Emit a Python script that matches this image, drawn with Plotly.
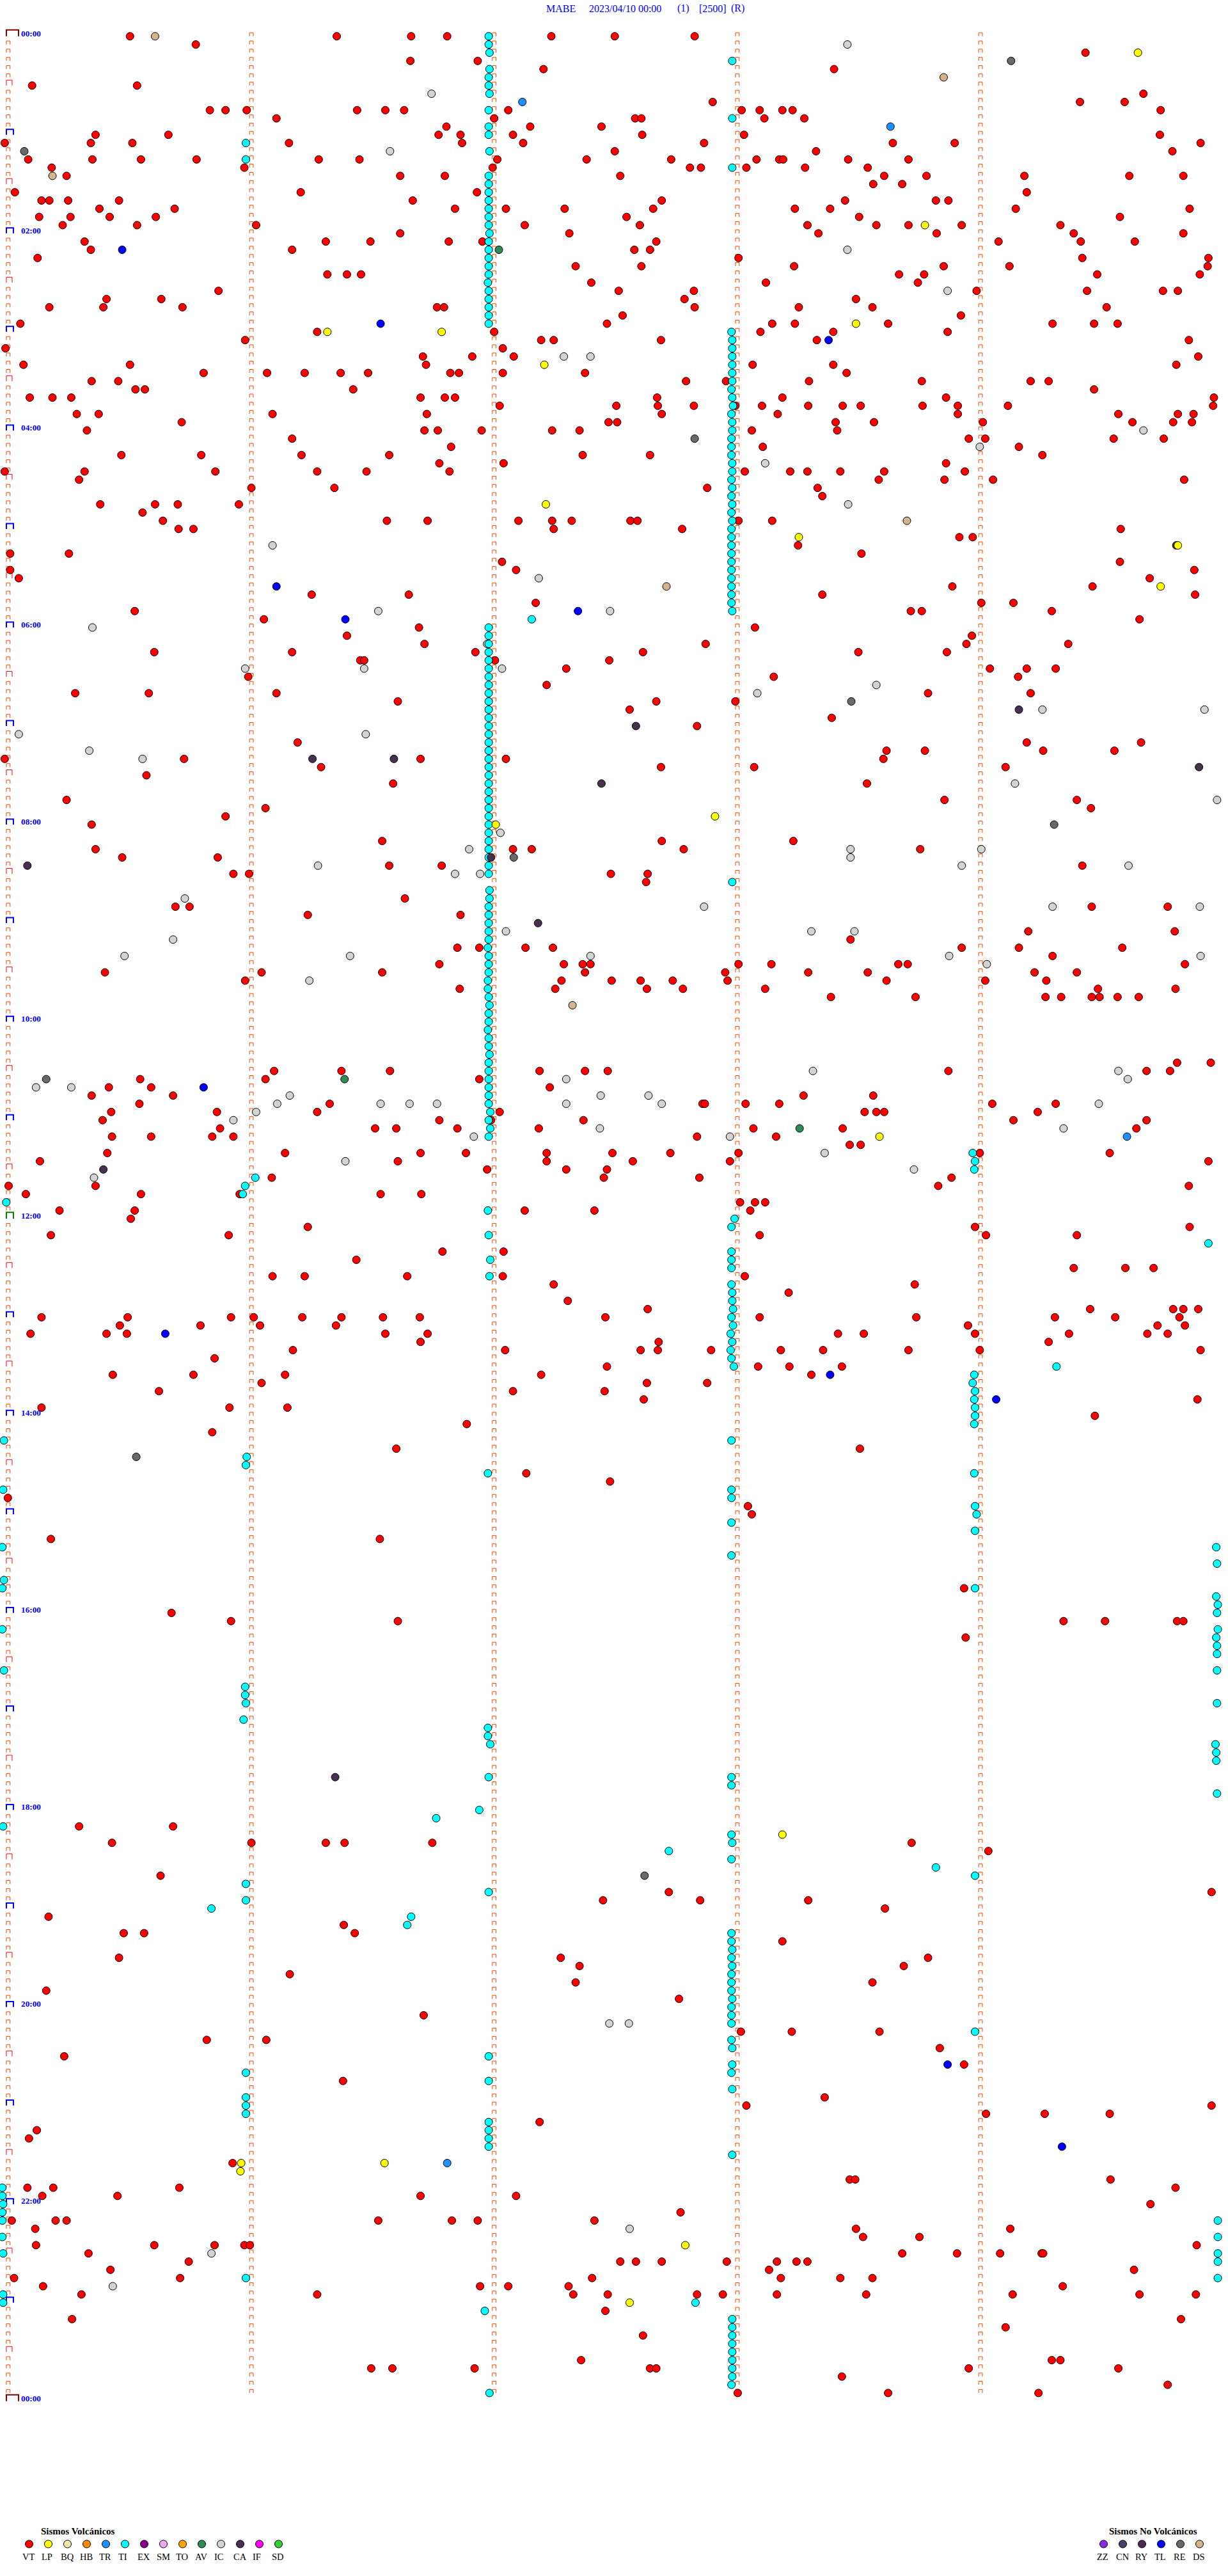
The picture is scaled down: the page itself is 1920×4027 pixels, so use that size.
import plotly.graph_objects as go

# Helicorder-style event chart: one row per 5 minutes of the day,
# x = sample offset inside the 5 minute window (0 .. 1568 samples)
ROW_COUNT = 288
SAMPLES_PER_WINDOW = 1568
MINUTE_TICKS = [10.5, 321, 631, 941.5, 1252]
TIME_LABELS = ["00:00", "02:00", "04:00", "06:00", "08:00", "10:00", "12:00",
               "14:00", "16:00", "18:00", "20:00", "22:00", "00:00"]

VT = {
0:[166,430,525,571,704,785,887],1:[250],2:[1386],3:[524,610],4:[694,1065],6:[41,175],7:[1460],8:[910,1379,1436],
9:[268,288,315,456,492,516,649,947,970,999,1012,1482],10:[353,631,811,819,976,1027],11:[570,677,768],
12:[122,215,560,588,655,820,950,1481],13:[6,116,169,369,590,668,899,1140,1219,1533],14:[785,1042,1497],
15:[36,118,180,251,407,459,635,749,857,966,995,1000,1083,1160],16:[66,312,629,881,895,953,1028,1108],
17:[85,511,568,792,1129,1183,1308,1442,1511],18:[1115,1152],19:[19,384,609,1311],
20:[53,63,87,152,527,845,1079,1195,1211],21:[127,223,581,646,721,834,1015,1060,1297,1519],
22:[50,90,140,199,800,1097,1430],23:[80,175,327,670,817,1031,1119,1160,1228,1354],24:[511,727,1045,1196,1371,1511],
25:[108,416,473,573,616,838,1275,1380,1449],26:[116,373,810,830],27:[48,943,1382,1543],
28:[735,819,1014,1205,1289,1542],29:[418,443,461,1148,1180,1401,1532],30:[755,978,1172],
31:[279,790,886,1247,1388,1485,1504],32:[136,206,874,1093],33:[63,132,233,558,567,887,1020,1114,1413],34:[795,1227],
35:[26,775,986,1015,1134,1344,1397,1427],36:[405,631,971,1064,1210],37:[313,691,707,844,1043,1518],38:[7,642],
39:[540,603,656,1530],40:[30,166,544,961,1064,1502],41:[260,341,389,435,470,575,586,642,747,1081],
42:[117,151,876,927,1033,1177,1316,1339],43:[173,185,451,1397],44:[38,67,91,537,568,581,839,999,1208,1550],
45:[638,787,840,886,939,973,1032,1076,1099,1178,1223,1287,1549],46:[98,126,348,545,845,993,1223,1428,1504,1524],
47:[232,777,788,1067,1116,1255,1446,1498,1522],48:[111,542,559,615,705,740,960,1069],49:[373,1237,1258,1422,1486],
50:[576,974,1301],51:[155,257,385,497,744,830,1331],52:[561,643,1208],53:[6,108,275,405,468,574,951,1009,1031,1073,1129,1232],
54:[101,1122,1206,1268,1512],55:[321,427,903,1044],56:[1050],57:[128,198,227,305],58:[182],
59:[208,494,546,662,705,730,805,814,943,986],60:[228,247,707,871,1431],61:[1225,1242],62:[1019],63:[13,88,1100],
64:[641,1430],65:[13,659,1525],66:[24,1468],67:[1216,1395],68:[398,522,1050,1526],69:[684,1253,1294],
70:[172,1163,1177,1343],71:[337,1455],
72:[535,964],73:[443,1241],74:[542,901,1234,1364],75:[197,373,607,821,1096,1209],76:[460,465,632,778],
77:[723,1264,1311,1348],78:[317,988,1300],79:[698],80:[96,190,353,1185,1316],81:[508,838,939],82:[804],83:[1062],
84:[890],86:[380,1311,1457],87:[1132,1181,1332,1423],88:[6,235,537,646,1128],89:[410,844,963,1284],90:[187],
91:[502,1107],93:[85,1206,1375],94:[339,1393],95:[288],96:[117],98:[488,845,1013],99:[122,655,679,873,1175],
100:[156,278],101:[497,564,1382],102:[298,318,780,827],103:[825],105:[517],106:[224,242,1394,1491],107:[393,588],
109:[1313,1500],110:[1086],111:[584,612,671,706,1228,1301,1433],112:[1344],113:[561,720,744,754,943,985,1147,1159,1513],
114:[134,334,488,747,926,1032,1108,1321,1375],115:[313,717,781,818,859,929,1132,1258,1336],
116:[587,709,826,872,977,1402,1501],117:[1061,1169,1335,1355,1394,1404,1427,1454],125:[1503,1546],
126:[350,436,498,689,747,776,1211,1464,1494],127:[179,339,612],128:[139,193,702],129:[117,221,1026,1115],
130:[178,421,897,900,952,995,1267,1348],131:[142,277,405,638,1104,1119,1129,1325],132:[131,561,627,745,1294,1464],
133:[281,479,506,584,688,962,1076,1451],134:[143,193,271,298,890,991],135:[1085,1099],
136:[137,364,537,595,698,782,856,943,1251,1417],137:[51,508,698,808,932,1543],138:[622,723,775],
139:[347,771,893,1215],140:[11,122,1198,1518],141:[33,180,306,486,538],142:[945,964,977],143:[76,172,670,759,958],144:[167],
145:[393,1245,1519],146:[65,292,970,1259,1375],148:[565,643],149:[455],150:[1371,1437,1473],151:[348,389,520,642,951],
152:[707,1168],153:[1007],154:[725],155:[827,1392,1498,1511,1530],156:[53,163,295,324,386,436,489,536,773,970,1170,1347,1424,1506],
157:[153,256,332,429,1236,1478,1513],158:[39,136,162,492,546,1070,1103,1245,1365,1465,1491],159:[537,841,1339],
160:[374,645,818,840,908,997,1051,1160,1251,1533],161:[274],162:[775,968,1008,1075],163:[144,247,364,691,1036],
164:[334,826,903],165:[203,655,772],166:[822,1529],167:[53,293,367],168:[1398],169:[596],170:[271],172:[506,1098],
175:[672],176:[779],178:[10],179:[955],180:[960],183:[65,485],189:[1231],192:[219],193:[295,508,1358,1411,1503,1511],
195:[1233],218:[101,221],220:[143,321,416,440,552,1164],221:[1262],224:[205],226:[854,1547],227:[770,894,1032],
228:[1130],229:[62],230:[439],231:[158,184,453],232:[999],234:[152,716,1185],235:[740,1154],236:[370],237:[735,1114],
238:[59],239:[867],241:[541],243:[946,1011,1123],244:[264,340],245:[1200],246:[82],247:[1231],249:[438],251:[1053],
252:[953,1547],253:[1259,1334,1417],254:[689],255:[47],256:[37],259:[297],261:[1085,1092,1418],262:[35,68,229,1501],
263:[54,150,537,659],264:[1469],265:[869],266:[15,71,85,483,577,610,759],267:[45,1093,1290],268:[1102,1174],
269:[46,197,274,312,319,1528],270:[113,1152,1222,1277,1330,1332],271:[241,792,812,845,928,992,1017,1031],
272:[141,982,1448],273:[18,230,756,997,1073,1114],274:[55,613,649,726,1357],
275:[104,405,732,776,890,923,992,1106,1293,1455,1527],277:[773],278:[92,1508],279:[1284],280:[821],283:[742,1343,1354],
284:[474,501,606,830,838,1237,1428],285:[1075],286:[1491],287:[942,1134,1326],
}

TI = {
0:[624],1:[624],2:[625],3:[935],4:[625],5:[624],6:[624],7:[625],9:[624],10:[935],11:[624],12:[624],13:[314],14:[625],
15:[314],16:[935],17:[624],18:[624],19:[624],20:[624],21:[624],22:[624],23:[624],24:[625],25:[624],26:[624],27:[624],
28:[624],29:[624],30:[623],31:[624],32:[624],33:[624],34:[624],35:[624],36:[934],37:[935],38:[935],39:[935],40:[935],
41:[935],42:[935],43:[934],44:[935],45:[936],46:[934],47:[935],48:[935],49:[934],50:[934],51:[934],52:[935],53:[935],
54:[934],55:[935],56:[934],57:[935],58:[934],59:[935],60:[934],61:[934],62:[934],63:[934],64:[934],65:[934],66:[934],
67:[934],68:[934],69:[934],70:[935],71:[679],72:[624],73:[624],74:[624],75:[624],76:[624],77:[624],78:[624],79:[624],
80:[624],81:[624],82:[624],83:[624],84:[624],85:[624],86:[624],87:[624],88:[624],89:[624],90:[624],91:[624],92:[624],
93:[624],94:[624],95:[624],96:[624],97:[624],98:[624],99:[624],100:[624],101:[624],102:[624],103:[935],104:[625],
105:[625],106:[624],107:[624],108:[624],109:[624],110:[624],111:[623],112:[624],113:[624],114:[624],115:[623],116:[623],
117:[624],118:[625],119:[624],120:[624],121:[623],122:[624],123:[624],124:[625],125:[624],126:[624],127:[624],128:[624],
129:[624],130:[624],131:[626],132:[624],133:[626],134:[624],136:[1242],137:[1245],138:[1244],139:[326],140:[313],
141:[310],142:[8],143:[623],144:[938],145:[934],146:[624],147:[1543],148:[934],149:[626,934],150:[934],151:[625],
152:[934],153:[935],154:[935],155:[936],156:[934],157:[936],158:[933],159:[935],160:[933],161:[934],162:[937,1349],
163:[1244],164:[1242],165:[1245],166:[1244],167:[1245],168:[1245],169:[1244],171:[5,934],173:[315],174:[314],
175:[623,1244],177:[4,934],178:[934],179:[1245],180:[1247],181:[934],182:[1245],184:[3,1553],185:[934],186:[1554],
188:[5],189:[3,1245],190:[1553],191:[1555],192:[1554],194:[3,1555],195:[1553],196:[1554],197:[1554],199:[5,1554],
201:[313],202:[313],203:[314,1554],205:[311],206:[623],207:[623],208:[626,1552],209:[1553],210:[1553],212:[624,934],
213:[934],214:[1554],216:[612],217:[557],218:[4],219:[934],220:[935],221:[854],222:[934],223:[1195],224:[1245],
225:[314],226:[624],227:[314],228:[270],229:[525],230:[520],231:[934],232:[934],233:[935],234:[934],235:[935],236:[934],
237:[934],238:[934],239:[935],240:[934],241:[934],242:[934],243:[1245],244:[934],245:[935],246:[624],247:[935],
248:[314,934],249:[624],250:[935],251:[314],252:[314],253:[314],254:[624],255:[624],256:[624],257:[624],258:[935],
262:[3],263:[3],264:[4],265:[3],266:[3,1555],268:[3,1555],270:[4,1555],271:[1555],273:[314,1555],275:[4],276:[4,888],
277:[619],278:[935],279:[935],280:[935],281:[935],282:[935],283:[935],284:[935],285:[935],286:[934],287:[625],
}

LP = {2:[1453],23:[1181],35:[1093],36:[418,564],40:[695],57:[697],61:[1020],62:[1504],67:[1482],95:[913],96:[633],
      134:[1123],219:[999],259:[308,491],260:[307],269:[875],276:[804]}
TR = {8:[667],11:[1137],134:[1439],259:[571]}
AV = {26:[637],127:[440],133:[1021]}
DS = {0:[198],5:[1205],17:[67],59:[1158],67:[851],118:[731]}
RE = {3:[1291],14:[31],49:[887],81:[1087],96:[1346],100:[656],127:[59],173:[174],224:[823]}
TL = {26:[156],35:[486],37:[1058],67:[353],70:[738],71:[441],128:[260],158:[211],163:[1060],166:[1272],247:[1210],257:[1356]}
CA = {62:[1502],82:[1301],84:[812],88:[399,503],89:[1531],91:[768],100:[627],101:[35],108:[687],138:[132],212:[428]}
IC = {1:[1082],7:[551],14:[498],26:[1082],31:[1210],39:[720,754],48:[1460],50:[1251],52:[977],57:[1083],62:[348],66:[688],
      70:[483,779],72:[118],74:[622],77:[313,465,641],79:[1119],80:[967],82:[1331,1538],85:[24,467],87:[114],88:[182],
      91:[1296],93:[1554],97:[639],99:[599,1086,1253],100:[1086],101:[406,1228,1441],102:[581,613],105:[236],
      106:[899,1344,1532],109:[646,1036,1091],110:[221],112:[159,447,754,1212,1533],113:[1260],115:[395],126:[1038,1428],
      127:[723,1440],128:[46,91],129:[370,767,828],130:[354,486,523,558,723,845,1403],131:[327],132:[298],133:[766,1358],
      134:[605,932],136:[1053],137:[441],138:[1167],139:[120],242:[778,803],267:[804],270:[270],274:[144]}

VOLCANIC = ["VT", "LP", "BQ", "HB", "TR", "TI", "EX", "SM", "TO", "AV", "IC", "CA", "IF", "SD"]
NON_VOLCANIC = ["ZZ", "CN", "RY", "TL", "RE", "DS"]
COLORS = {"VT": "#ff0000", "LP": "#ffff00", "BQ": "#eee8aa", "HB": "#ff8c00", "TR": "#1e90ff", "TI": "#00ffff",
          "EX": "#8b008b", "SM": "#eeaaee", "TO": "#ffa500", "AV": "#2e8b57", "IC": "#d3d3d3", "CA": "#483050",
          "IF": "#ff00ff", "SD": "#32cd32", "ZZ": "#8a2be2", "CN": "#483d6b", "RY": "#4b2c50", "TL": "#0000ff",
          "RE": "#696969", "DS": "#d2b48c"}

W, H = 1920, 4027
PX_X = W / SAMPLES_PER_WINDOW       # pixels per sample
ROW_PX = 12.837                     # pixels per row
ROW0_PX = 56.7
ROW_TOP = -ROW0_PX / ROW_PX
ROW_BOTTOM = (H - ROW0_PX) / ROW_PX


def row_of(py):
    return (py - ROW0_PX) / ROW_PX


def gate_path(cx, row, half_w_px, h_px):
    dx = half_w_px / PX_X
    dy = h_px / ROW_PX
    return [cx - dx, cx - dx, cx + dx, cx + dx, None], [row, row - dy, row - dy, row, None]


fig = go.Figure()

# small minute gates on every row
gx, gy = [], []
for tick_i, cx in enumerate(MINUTE_TICKS):
    for row in range(ROW_COUNT):
        if tick_i == 0 and row % 6 == 0:
            continue
        a, b = gate_path(cx, row, 2.9, 5.5)
        gx += a
        gy += b
fig.add_trace(go.Scatter(x=gx, y=gy, mode="lines", line=dict(color="#ff4500", width=1)))

# half-hour / hour / day gates on the first column
for color, width, rows, half_w, h in [
    ("#ff0000", 1, [r for r in range(6, ROW_COUNT, 12)], 4.5, 8.5),
    ("#0000ff", 2, [r for r in range(12, ROW_COUNT, 12) if r != 144], 5.5, 8.5),
    ("#008000", 2, [144], 5.5, 10),
    ("#800000", 2, [0, 288], 9.5, 10),
]:
    mx, my = [], []
    for row in rows:
        shift = (half_w - 2.9) / PX_X
        a, b = gate_path(MINUTE_TICKS[0] + shift, row, half_w, h)
        mx += a
        my += b
    fig.add_trace(go.Scatter(x=mx, y=my, mode="lines", line=dict(color=color, width=width)))


def add_events(name, table):
    xs, ys = [], []
    for row, offsets in table.items():
        for off in offsets:
            xs.append(off)
            ys.append(row)
    fig.add_trace(go.Scatter(x=xs, y=ys, mode="markers", name=name, cliponaxis=False,
                             marker=dict(size=12, color=COLORS[name], line=dict(color="#000000", width=1))))


for name, table in [("VT", VT), ("DS", DS), ("RE", RE), ("IC", IC), ("TI", TI), ("CA", CA),
                    ("LP", LP), ("TR", TR), ("TL", TL), ("AV", AV)]:
    add_events(name, table)

# legends
LEG_ROW = row_of(3977)
LEG_LABEL_PX = 3997
LEG_TITLE_PX = 3957
annotations = []


def label(text, px, py, size, color="#000000", bold=False):
    annotations.append(dict(
        text=f"<b>{text}</b>" if bold else text, x=px / W, y=1 - py / H, xref="paper", yref="paper",
        xanchor="left", yanchor="middle", showarrow=False, borderpad=0,
        font=dict(family="Liberation Serif", size=size, color=color)))


for names, start_px in [(VOLCANIC, 45.5), (NON_VOLCANIC, 1725.5)]:
    xs = [(start_px + 30 * i) / PX_X for i in range(len(names))]
    fig.add_trace(go.Scatter(x=xs, y=[LEG_ROW] * len(names), mode="markers",
                             marker=dict(size=12, color=[COLORS[n] for n in names],
                                         line=dict(color="#000000", width=1))))
    for i, n in enumerate(names):
        label(n, start_px + 30 * i - 12, LEG_LABEL_PX, 14.5)

label("Sismos Volcánicos", 63, LEG_TITLE_PX, 15, bold=True)
label("Sismos No Volcánicos", 1733, LEG_TITLE_PX, 15, bold=True)

# header
for text, px in [("MABE", 853), ("2023/04/10 00:00", 920), ("(1)", 1058), ("[2500]", 1092), ("(R)", 1142)]:
    label(text, px, 13, 16, color="#0000ff")

# time labels
for i, t in enumerate(TIME_LABELS):
    label(t, 32, ROW0_PX + i * 24 * ROW_PX - 4.7, 13.3, color="#0000ff", bold=True)

fig.update_layout(
    width=W, height=H, margin=dict(l=0, r=0, t=0, b=0, pad=0),
    paper_bgcolor="#ffffff", plot_bgcolor="#ffffff", showlegend=False, hovermode=False,
    xaxis=dict(range=[0, SAMPLES_PER_WINDOW], visible=False, fixedrange=True),
    yaxis=dict(range=[ROW_BOTTOM, ROW_TOP], visible=False, fixedrange=True),
    annotations=annotations,
)

fig.write_html("out.html", config={"displayModeBar": False},
               post_script="document.body.style.margin='0';document.body.style.overflow='hidden';")
